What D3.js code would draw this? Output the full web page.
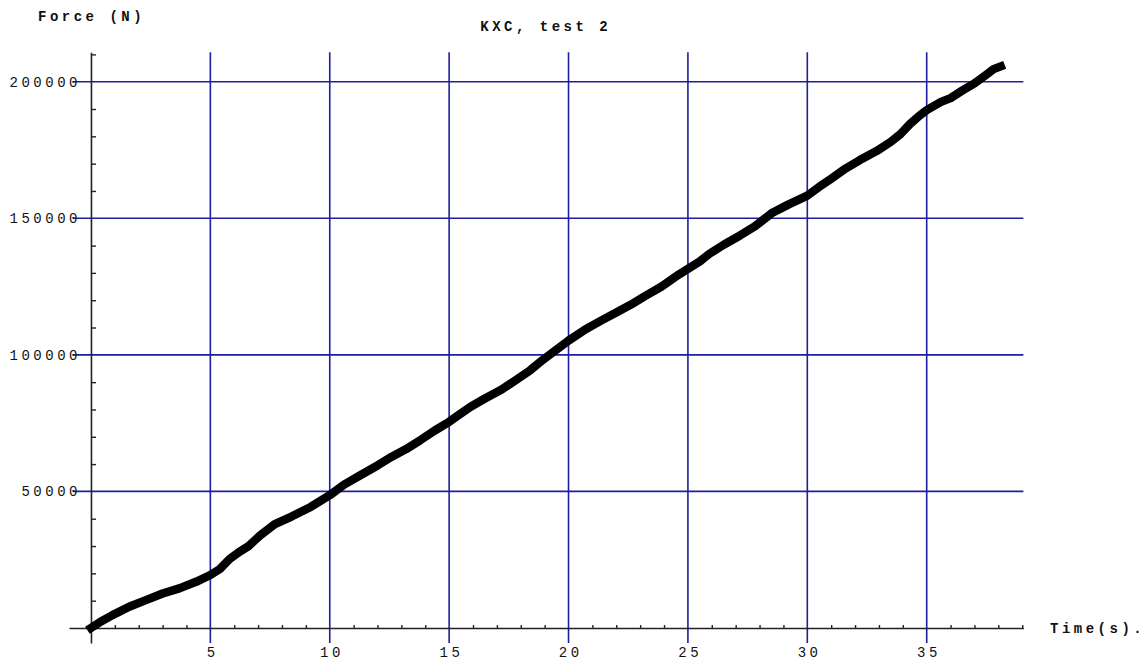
<!DOCTYPE html>
<html>
<head>
<meta charset="utf-8">
<script src="https://cdn.jsdelivr.net/npm/d3@7"></script>
<style>
  html, body { margin: 0; padding: 0; background: #fff; }
  svg { display: block; }
  text { font-family: "Liberation Mono", "DejaVu Sans Mono", monospace; fill: #111; }
</style>
</head>
<body>
<script>
// Load test KXC, test 2: applied force against elapsed time
const timeS = [0, 0.4, 0.9, 1.6, 2.3, 3.0, 3.7, 4.4, 5.0, 5.4, 5.8, 6.2, 6.6, 7.1, 7.7, 8.4, 9.2,
  10.0, 10.6, 11.3, 12.0, 12.6, 13.2, 13.8, 14.4, 15.0, 15.4, 15.9, 16.5, 17.2, 17.8, 18.4,
  18.9, 19.3, 20.0, 20.7, 21.4, 22.0, 22.6, 23.2, 23.9, 24.6, 25.0, 25.5, 25.9, 26.5, 27.2,
  27.8, 28.5, 29.2, 30.0, 30.5, 31.0, 31.6, 32.2, 32.9, 33.5, 33.9, 34.3, 34.7, 35.0, 35.6,
  36.0, 36.5, 37.0, 37.5, 37.8, 38.1];
const forceN = [0, 2300, 4700, 7800, 10200, 12600, 14500, 16900, 19400, 21600, 25200, 27800,
  30000, 34000, 38000, 40800, 44300, 48600, 52500, 56000, 59500, 62700, 65500, 68800, 72300,
  75500, 78000, 81000, 84000, 87300, 90800, 94400, 98000, 100600, 105200, 109300, 112700,
  115500, 118300, 121500, 125000, 129300, 131500, 134200, 137000, 140300, 143800, 147000,
  151800, 155000, 158300, 161500, 164500, 168200, 171300, 174600, 178000, 180800, 184500,
  187600, 189600, 192600, 194000, 196800, 199400, 202600, 204600, 205600];

const xMajor = [5, 10, 15, 20, 25, 30, 35];
const xMinor = d3.range(1, 40).filter(v => v % 5 !== 0);
const yMajor = [50000, 100000, 150000, 200000];
const yMinor = d3.range(10000, 220000, 10000).filter(v => v % 50000 !== 0);

const title = "KXC, test 2";
const yLabel = "Force (N)";
const xLabel = "Time(s).";

const W = 1147, H = 668;
const LS = 3.5; // letter spacing of the monospace text

const svg = d3.select("body").append("svg")
  .attr("width", W).attr("height", H);
svg.append("rect").attr("width", W).attr("height", H).attr("fill", "#fff");

// plot range, slightly padded beyond the data like the original plot
const x = d3.scaleLinear().domain([-0.92, 39.05]).range([69, 1023.4]);
const y = d3.scaleLinear().domain([-5500, 210800]).range([643, 52.2]);

const gridColor = "#1e1e9e";
const axisColor = "#222";

// grid lines
const grid = svg.append("g");
grid.selectAll("line.v").data(xMajor).join("line")
  .attr("x1", d => x(d)).attr("x2", d => x(d))
  .attr("y1", y.range()[1]).attr("y2", y.range()[0])
  .attr("stroke", gridColor).attr("stroke-width", 1.6);
grid.selectAll("line.h").data(yMajor).join("line")
  .attr("x1", x.range()[0] + 4).attr("x2", x.range()[1])
  .attr("y1", d => y(d)).attr("y2", d => y(d))
  .attr("stroke", gridColor).attr("stroke-width", 1.6);

// x axis
const gx = svg.append("g").attr("transform", `translate(0,${y(0)})`);
gx.call(d3.axisBottom(x).tickValues(xMinor).tickSize(-3).tickSizeOuter(0).tickFormat(""));
const gxl = svg.append("g").attr("transform", `translate(0,${y(0)})`);
gxl.call(d3.axisBottom(x).tickValues(xMajor).tickSize(0).tickFormat(d3.format("d")));
gxl.select(".domain").remove();
gxl.selectAll("text")
  .attr("y", 19).attr("dx", LS / 2)
  .style("font-size", "14px").style("letter-spacing", LS + "px")
  .attr("fill", "#111");

// y axis
const gy = svg.append("g").attr("transform", `translate(${x(0)},0)`);
gy.call(d3.axisLeft(y).tickValues(yMinor).tickSize(-5).tickSizeOuter(0).tickFormat(""));
const gyl = svg.append("g").attr("transform", `translate(${x(0)},0)`);
gyl.call(d3.axisLeft(y).tickValues(yMajor).tickSize(0).tickPadding(10).tickFormat(d3.format("d")));
gyl.select(".domain").remove();
gyl.selectAll("text")
  .style("font-size", "14px").style("letter-spacing", LS + "px")
  .attr("fill", "#111");

[gx, gy].forEach(g => {
  g.selectAll(".domain").attr("stroke", axisColor).attr("stroke-width", 1.6);
  g.selectAll(".tick line").attr("stroke", axisColor).attr("stroke-width", 1.4);
});

// force curve
const line = d3.line()
  .x((d, i) => x(timeS[i]))
  .y(d => y(d));
svg.append("path")
  .datum(forceN)
  .attr("d", line)
  .attr("fill", "none")
  .attr("stroke", "#000")
  .attr("stroke-width", 8.5)
  .attr("stroke-linejoin", "round")
  .attr("stroke-linecap", "square");

// labels
svg.append("text").text(title)
  .attr("x", 544 + LS / 2).attr("y", 31)
  .attr("text-anchor", "middle")
  .style("font-size", "14px").style("font-weight", "bold")
  .style("letter-spacing", LS + "px");
svg.append("text").text(yLabel)
  .attr("x", 38).attr("y", 21)
  .style("font-size", "14px").style("font-weight", "bold")
  .style("letter-spacing", LS + "px");
svg.append("text").text(xLabel)
  .attr("x", 1050).attr("y", 633)
  .style("font-size", "14px").style("font-weight", "bold")
  .style("letter-spacing", LS + "px");
</script>
</body>
</html>
